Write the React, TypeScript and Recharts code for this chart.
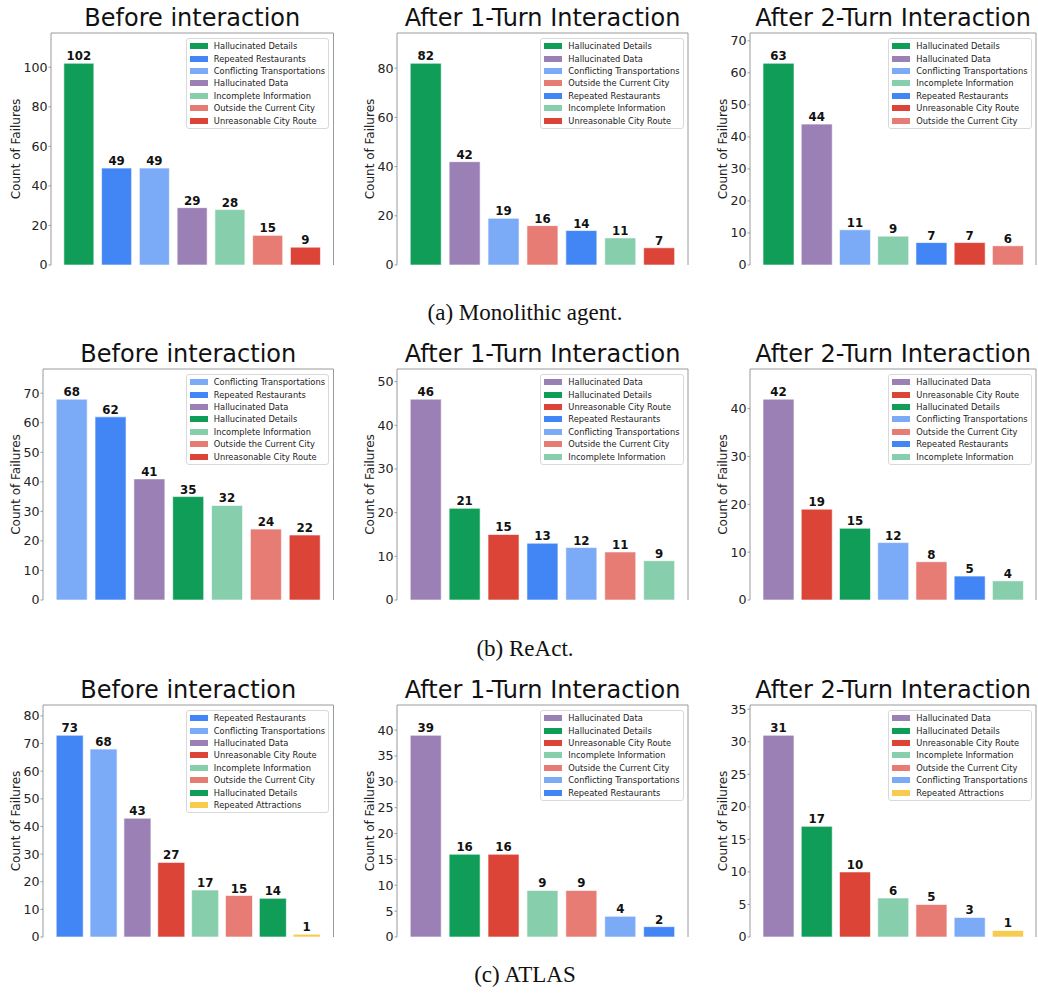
import React from 'react';
import { BarChart, Bar, XAxis, YAxis, Cell, LabelList, Legend, Label, ReferenceLine } from 'recharts';

const FONT = '"DejaVu Sans", sans-serif';

const COLORS: Record<string, string> = {
  'Hallucinated Details': '#0f9d58',
  'Repeated Restaurants': '#4285f4',
  'Conflicting Transportations': '#7baaf7',
  'Hallucinated Data': '#9b80b6',
  'Incomplete Information': '#87ceac',
  'Outside the Current City': '#e67c73',
  'Unreasonable City Route': '#db4437',
  'Repeated Attractions': '#f7cb4d',
};

// ---- data ----
const catsA1 = ['Hallucinated Details', 'Repeated Restaurants', 'Conflicting Transportations', 'Hallucinated Data', 'Incomplete Information', 'Outside the Current City', 'Unreasonable City Route'];
const valsA1 = [102, 49, 49, 29, 28, 15, 9];
const ticksA1 = [0, 20, 40, 60, 80, 100];

const catsA2 = ['Hallucinated Details', 'Hallucinated Data', 'Conflicting Transportations', 'Outside the Current City', 'Repeated Restaurants', 'Incomplete Information', 'Unreasonable City Route'];
const valsA2 = [82, 42, 19, 16, 14, 11, 7];
const ticksA2 = [0, 20, 40, 60, 80];

const catsA3 = ['Hallucinated Details', 'Hallucinated Data', 'Conflicting Transportations', 'Incomplete Information', 'Repeated Restaurants', 'Unreasonable City Route', 'Outside the Current City'];
const valsA3 = [63, 44, 11, 9, 7, 7, 6];
const ticksA3 = [0, 10, 20, 30, 40, 50, 60, 70];

const catsB1 = ['Conflicting Transportations', 'Repeated Restaurants', 'Hallucinated Data', 'Hallucinated Details', 'Incomplete Information', 'Outside the Current City', 'Unreasonable City Route'];
const valsB1 = [68, 62, 41, 35, 32, 24, 22];
const ticksB1 = [0, 10, 20, 30, 40, 50, 60, 70];

const catsB2 = ['Hallucinated Data', 'Hallucinated Details', 'Unreasonable City Route', 'Repeated Restaurants', 'Conflicting Transportations', 'Outside the Current City', 'Incomplete Information'];
const valsB2 = [46, 21, 15, 13, 12, 11, 9];
const ticksB2 = [0, 10, 20, 30, 40, 50];

const catsB3 = ['Hallucinated Data', 'Unreasonable City Route', 'Hallucinated Details', 'Conflicting Transportations', 'Outside the Current City', 'Repeated Restaurants', 'Incomplete Information'];
const valsB3 = [42, 19, 15, 12, 8, 5, 4];
const ticksB3 = [0, 10, 20, 30, 40];

const catsC1 = ['Repeated Restaurants', 'Conflicting Transportations', 'Hallucinated Data', 'Unreasonable City Route', 'Incomplete Information', 'Outside the Current City', 'Hallucinated Details', 'Repeated Attractions'];
const valsC1 = [73, 68, 43, 27, 17, 15, 14, 1];
const ticksC1 = [0, 10, 20, 30, 40, 50, 60, 70, 80];

const catsC2 = ['Hallucinated Data', 'Hallucinated Details', 'Unreasonable City Route', 'Incomplete Information', 'Outside the Current City', 'Conflicting Transportations', 'Repeated Restaurants'];
const valsC2 = [39, 16, 16, 9, 9, 4, 2];
const ticksC2 = [0, 5, 10, 15, 20, 25, 30, 35, 40];

const catsC3 = ['Hallucinated Data', 'Hallucinated Details', 'Unreasonable City Route', 'Incomplete Information', 'Outside the Current City', 'Conflicting Transportations', 'Repeated Attractions'];
const valsC3 = [31, 17, 10, 6, 5, 3, 1];
const ticksC3 = [0, 5, 10, 15, 20, 25, 30, 35];

const titles = ['Before interaction', 'After 1-Turn Interaction', 'After 2-Turn Interaction'];
const captions = ['(a) Monolithic agent.', '(b) ReAct.', '(c) ATLAS'];

// ---- layout ----
const colLayout = [
  { cl: 0, lab: 16, fr: 333.5 },
  { cl: 350, lab: 20, fr: 688 },
  { cl: 700, lab: 23, fr: 1036 },
];
const rowLayout = [
  { ft: 33, fb: 265, fls: [51, 397, 750], cap: 320 },
  { ft: 369, fb: 600, fls: [43, 397, 750], cap: 656 },
  { ft: 705, fb: 937, fls: [43, 397, 750], cap: 982 },
];
const MT = 9;
const MB = 9;

const panels = [
  [catsA1, valsA1, ticksA1],
  [catsA2, valsA2, ticksA2],
  [catsA3, valsA3, ticksA3],
  [catsB1, valsB1, ticksB1],
  [catsB2, valsB2, ticksB2],
  [catsB3, valsB3, ticksB3],
  [catsC1, valsC1, ticksC1],
  [catsC2, valsC2, ticksC2],
  [catsC3, valsC3, ticksC3],
] as [string[], number[], number[]][];

const FRAME = '#9a9a9a';

const LegendBox = ({ cats }: { cats: string[] }) => (
  <div
    style={{
      border: '1px solid #d9d9d9',
      borderRadius: 3,
      background: 'rgba(255,255,255,0.85)',
      padding: '1px 3px 1px 3px',
      fontFamily: FONT,
      fontSize: 8.3,
      color: '#222',
      boxSizing: 'border-box',
    }}
  >
    {cats.map((c) => (
      <div key={c} style={{ display: 'flex', alignItems: 'center', height: 12.4, whiteSpace: 'nowrap' }}>
        <span style={{ display: 'inline-block', width: 18, height: 6, background: COLORS[c], marginRight: 6, flex: 'none' }} />
        <span>{c}</span>
      </div>
    ))}
  </div>
);

const Panel = ({ idx }: { idx: number }) => {
  const r = Math.floor(idx / 3);
  const c = idx % 3;
  const [cats, vals, ticks] = panels[idx];
  const { cl, lab, fr } = colLayout[c];
  const { ft, fb, fls } = rowLayout[r];
  const fl = fls[c];
  const n = cats.length;
  const total = 1.1 * (n - 0.2);
  const padFrac = (total - n) / 2 / total;
  const plotW = fr - fl;
  const pad = plotW * padFrac;
  const maxV = Math.max(...vals);
  const yMax = maxV * 1.15;
  const data = cats.map((name, i) => ({ name, value: vals[i] }));
  const width = fr - cl + 1;
  const height = fb - ft + MT + MB;
  return (
    <>
      <div
        style={{
          position: 'absolute',
          left: fl,
          width: plotW,
          top: ft - 27,
          height: 24,
          lineHeight: '24px',
          fontFamily: FONT,
          fontSize: 24,
          textAlign: 'center',
          color: '#111',
          whiteSpace: 'nowrap',
        }}
      >
        {titles[c]}
      </div>
      <div style={{ position: 'absolute', left: cl, top: ft - MT }}>
        <BarChart
          width={width}
          height={height}
          data={data}
          margin={{ top: MT, right: 0, bottom: MB, left: 0 }}
          barCategoryGap="10%"
        >
          <XAxis
            dataKey="name"
            height={0}
            tick={false}
            tickLine={false}
            axisLine={{ stroke: FRAME }}
            padding={{ left: pad, right: pad }}
          />
          <YAxis
            width={fl - cl}
            type="number"
            domain={[0, yMax]}
            ticks={ticks}
            interval={0}
            allowDataOverflow
            tickSize={2.5}
            tickMargin={1}
            tickLine={{ stroke: FRAME }}
            axisLine={{ stroke: FRAME }}
            tick={{ fontFamily: FONT, fontSize: 12.6, fill: '#222' }}
          >
            <Label
              value="Count of Failures"
              angle={-90}
              position="insideLeft"
              offset={lab}
              style={{ textAnchor: 'middle', fontFamily: FONT, fontSize: 12, fill: '#222' }}
            />
          </YAxis>
          <YAxis
            yAxisId="right"
            orientation="right"
            width={1}
            type="number"
            domain={[0, 1]}
            tick={false}
            tickLine={false}
            axisLine={{ stroke: FRAME }}
          />
          <ReferenceLine y={yMax} stroke={FRAME} strokeWidth={1} />
          <Legend
            layout="vertical"
            align="center"
            verticalAlign="middle"
            wrapperStyle={{ top: MT + 5, right: 5.5, left: 'auto', bottom: 'auto', width: 'auto' }}
            content={() => <LegendBox cats={cats} />}
          />
          <Bar dataKey="value" isAnimationActive={false} stroke="#ffffff" strokeOpacity={0.6} strokeWidth={1}>
            {data.map((d) => (
              <Cell key={d.name} fill={COLORS[d.name]} />
            ))}
            <LabelList
              dataKey="value"
              position="top"
              offset={3}
              style={{ fontFamily: FONT, fontSize: 11.8, fontWeight: 'bold', fill: '#111' }}
            />
          </Bar>
        </BarChart>
      </div>
    </>
  );
};

export default function App() {
  return (
    <div style={{ position: 'relative', width: 1038, height: 998, background: '#fff', overflow: 'hidden' }}>
      <style>{'body{margin:0;}'}</style>
      {panels.map((_, i) => (
        <Panel key={i} idx={i} />
      ))}
      {captions.map((t, r) => (
        <div
          key={t}
          style={{
            position: 'absolute',
            left: 0,
            width: 1050,
            top: rowLayout[r].cap - 19.3,
            height: 23,
            lineHeight: '23px',
            fontFamily: '"Liberation Serif", "Times New Roman", serif',
            fontSize: 23,
            textAlign: 'center',
            color: '#111',
          }}
        >
          {t}
        </div>
      ))}
    </div>
  );
}
